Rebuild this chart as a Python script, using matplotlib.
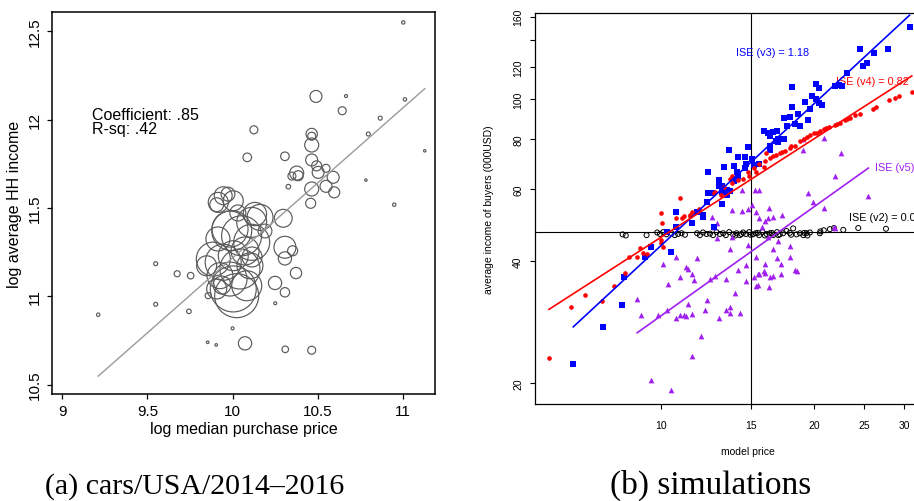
import numpy as np
import matplotlib
matplotlib.use("Agg")
import matplotlib.pyplot as plt
from matplotlib.ticker import NullLocator

plt.rcParams['font.family'] = ['Liberation Sans', 'DejaVu Sans']

# ---- panel (a): cars, log price vs log income, bubbles weighted by sales ----
log_price = [11.000, 10.664, 11.010, 10.488, 10.642, 10.865, 10.124, 10.795, 11.126, 10.463,
             10.463, 10.463, 10.085, 10.306, 10.463, 10.375, 10.384, 10.347, 10.326, 10.492,
             10.501, 10.547, 10.589, 10.463, 10.547, 10.595, 10.781, 10.457, 10.947, 9.944,
             9.972, 9.906, 9.915, 10.003, 10.296, 10.130, 10.160, 10.111, 9.984, 10.052,
             10.111, 9.994, 10.003, 9.886, 9.944, 9.847, 10.042, 10.101, 9.925, 9.984,
             10.082, 10.023, 10.003, 9.906, 9.856, 10.306, 10.351, 10.306, 10.371, 10.248,
             10.306, 10.249, 9.548, 9.674, 9.753, 9.548, 9.743, 9.211, 9.999, 9.853,
             9.903, 10.072, 10.308, 10.463, 9.913, 10.072, 9.937, 10.113, 10.030, 10.189]
log_income = [12.551, 12.134, 12.115, 12.132, 12.051, 12.009, 11.943, 11.919, 11.824, 11.919,
              11.907, 11.857, 11.787, 11.793, 11.772, 11.698, 11.683, 11.681, 11.621, 11.739,
              11.702, 11.725, 11.674, 11.608, 11.623, 11.589, 11.658, 11.527, 11.519, 11.570,
              11.579, 11.519, 11.532, 11.541, 11.442, 11.466, 11.447, 11.419, 11.381, 11.343,
              11.306, 11.372, 11.230, 11.211, 11.193, 11.173, 11.155, 11.173, 11.117, 11.098,
              11.060, 11.004, 11.042, 11.042, 11.004, 11.278, 11.258, 11.215, 11.132, 11.076,
              11.023, 10.961, 11.185, 11.128, 11.117, 10.955, 10.915, 10.896, 10.819, 10.740,
              10.725, 10.734, 10.700, 10.695, 11.325, 11.257, 11.064, 11.223, 11.472, 11.370]
sales = [0.72, 0.56, 0.72, 9, 4, 1, 4, 1, 0.36, 8.1,
         4, 12.3, 4.6, 4.6, 9, 12.3, 6.3, 4, 1.3, 6.3,
         9, 4, 9, 12.3, 9, 7.6, 0.36, 6.3, 0.72, 20,
         12, 12, 25, 25, 20, 34, 42, 56, 81, 100,
         81, 100, 56, 72, 81, 25, 100, 42, 42, 72,
         56, 121, 132, 25, 2.3, 30, 6.3, 11, 8, 11,
         5.5, 0.56, 1, 2.3, 2.7, 1, 1.3, 0.72, 0.56, 0.42,
         0.42, 11, 2.7, 4, 36, 49, 20, 25, 16, 12]
coef_a = 0.85
rsq_a = 0.42
center_a = (10.169, 11.3625)
stats_a = ["Coefficient: .85", "R-sq: .42"]

# ---- panel (b): simulated buyers' income vs model price ----
v3_x = [30.7, 24.6, 26.2, 27.9, 24.9, 25.3, 23.2, 21.9, 22.6, 22.3, 20.1, 20.4, 18.1, 19.8, 20.1,
        19.2, 20.4, 20.7, 19.6, 18.1, 18.6, 17.4, 17.9, 19.4, 17.7, 18.3, 18.7, 15.9, 16.2, 16.6,
        16.9, 16.4, 17.0, 17.4, 16.8, 17.0, 16.4, 16.4, 14.8, 13.6, 14.2, 14.6, 15.1, 15.6, 15.2,
        14.7, 14.6, 13.9, 13.3, 12.4, 14.1, 14.2, 13.9, 13.0, 13.0, 13.2, 13.5, 13.7, 13.2, 13.5,
        12.6, 12.4, 13.2, 12.3, 11.8, 12.1, 12.1, 10.7, 10.7, 11.5, 10.3, 12.7, 9.56, 10.5, 9.32,
        8.47, 8.39, 7.72, 6.75]
v3_y = [150.5, 133.2, 130.0, 133.2, 120.8, 123.2, 116.3, 107.8, 107.8, 108.6, 109.3, 106.6, 107.2, 101.8, 100.4,
        98.7, 98.2, 96.7, 94.9, 95.8, 92.2, 90.0, 90.5, 89.0, 85.8, 86.8, 86.0, 83.6, 82.6, 83.1,
        83.6, 81.1, 80.1, 80.0, 78.9, 78.5, 77.0, 75.2, 76.3, 74.9, 72.3, 72.3, 71.5, 69.4, 69.0,
        69.4, 67.8, 68.5, 68.1, 66.1, 66.3, 64.9, 62.8, 63.4, 61.2, 61.2, 59.7, 59.4, 59.2, 58.1,
        58.7, 58.7, 55.1, 55.9, 52.9, 52.0, 51.2, 52.9, 48.6, 49.5, 47.0, 48.6, 43.3, 42.1, 40.8,
        36.6, 31.1, 27.5, 22.3]

v4_x = [31.0, 29.3, 28.8, 28.0, 26.4, 26.0, 24.0, 23.5, 22.9, 22.4, 21.9, 21.4, 20.9, 20.5, 20.0,
        19.6, 19.1, 18.7, 18.3, 17.9, 17.5, 17.1, 16.8, 16.4, 16.1, 16.0, 15.9, 15.6, 15.2, 15.4,
        14.8, 14.9, 14.5, 14.2, 13.8, 13.8, 13.3, 12.8, 12.7, 13.7, 13.1, 10.9, 11.9, 11.5, 11.4,
        11.0, 10.7, 11.1, 11.4, 10.0, 10.05, 10.0, 10.1, 10.0, 9.11, 9.25, 8.98, 9.41, 8.68, 8.51,
        8.10, 7.69, 7.13, 6.69, 6.05, 18.0, 19.3, 20.2, 21.1, 22.1, 23.2, 24.5, 16.6, 17.3]
v4_y = [104.6, 101.8, 100.9, 99.5, 95.8, 94.9, 91.4, 90.0, 88.8, 87.7, 86.4, 85.6, 84.5, 83.6, 82.5,
        81.7, 80.0, 78.9, 77.0, 75.9, 74.5, 73.6, 72.9, 71.8, 73.6, 70.4, 68.1, 69.4, 67.6, 66.1,
        66.1, 64.9, 63.8, 63.2, 64.9, 62.1, 61.0, 59.2, 58.7, 63.8, 58.0, 57.2, 53.8, 52.7, 51.6,
        51.1, 50.9, 51.6, 52.0, 52.4, 49.6, 44.4, 43.3, 45.1, 43.1, 41.9, 41.0, 41.6, 41.0, 37.3,
        34.7, 31.8, 32.9, 30.8, 23.0, 76.6, 80.6, 82.9, 84.9, 87.0, 89.3, 92.2, 72.4, 74.1]

v5_x = [19.0, 20.9, 19.0, 22.5, 21.9, 19.4, 19.9, 20.9, 25.5, 14.4, 15.3, 15.6, 15.1, 14.8, 14.4,
        13.8, 15.4, 16.3, 16.6, 17.3, 15.6, 16.0, 16.2, 12.6, 12.9, 21.8, 15.8, 17.9, 17.9, 18.3,
        18.5, 16.6, 16.9, 17.2, 17.0, 16.2, 16.0, 15.9, 16.6, 17.2, 15.4, 15.6, 15.2, 15.5, 15.4,
        15.5, 16.3, 14.8, 14.7, 13.7, 13.8, 13.4, 12.8, 12.5, 14.0, 14.2, 11.8, 11.2, 11.3, 10.7,
        11.5, 11.6, 10.9, 10.35, 10.1, 12.3, 11.3, 12.2, 13.4, 13.7, 13.7, 14.3, 13.0, 11.5, 11.2,
        11.1, 10.9, 10.7, 10.3, 9.87, 9.0, 9.15, 12.0, 11.5, 9.56, 10.5, 12.7, 12.9, 14.7, 16.0,
        16.4, 21.9]
v5_y = [80.0, 80.3, 74.9, 74.0, 64.9, 58.9, 55.9, 54.0, 57.8, 59.9, 59.9, 59.7, 54.8, 53.8, 53.1,
        53.3, 52.7, 54.0, 51.2, 51.9, 50.9, 50.1, 51.1, 51.2, 49.6, 48.6, 48.6, 43.5, 41.0, 37.9,
        37.7, 42.9, 40.6, 39.4, 44.9, 45.8, 39.3, 37.8, 36.8, 37.1, 41.0, 37.1, 36.6, 37.1, 34.6,
        34.8, 34.4, 43.8, 39.1, 42.9, 45.8, 36.1, 36.8, 36.1, 33.3, 37.9, 40.6, 38.7, 38.2, 40.8,
        37.1, 35.9, 36.6, 35.1, 39.3, 32.1, 31.4, 30.2, 30.3, 30.8, 29.7, 29.7, 28.9, 29.6, 29.3,
        29.4, 29.5, 28.9, 30.2, 29.4, 32.3, 29.4, 26.1, 23.3, 20.3, 19.2, 48.6, 45.5, 35.7, 37.3,
        36.5, 48.3]

v2_x = [8.43, 8.55, 9.39, 9.85, 9.97, 10.12, 10.27, 10.51, 10.66, 10.82, 10.99, 11.16, 11.79, 11.94, 12.11,
        12.30, 12.49, 12.67, 12.87, 13.06, 13.26, 13.42, 13.62, 13.87, 14.08, 14.29, 14.51, 14.69, 14.91, 15.14,
        15.36, 15.59, 15.83, 16.12, 16.36, 16.60, 16.90, 17.11, 17.37, 17.63, 17.90, 18.17, 18.45, 18.73, 19.02,
        19.29, 19.38, 19.59, 20.49, 20.54, 20.86, 21.44, 21.84, 22.77, 24.36, 27.6, 14.0, 14.4, 15.0, 15.5,
        16.0, 16.5, 17.0, 18.0, 19.1]
v2_y = [46.5, 46.2, 46.3, 47.0, 46.6, 47.1, 46.5, 46.8, 46.3, 46.6, 46.8, 46.4, 46.8, 46.3, 47.0,
        46.6, 46.7, 46.3, 47.1, 46.6, 46.8, 46.3, 47.1, 46.5, 46.8, 46.3, 47.0, 46.6, 47.1, 46.5,
        46.8, 46.3, 47.1, 46.6, 46.8, 46.3, 47.1, 46.5, 46.8, 47.4, 46.9, 48.1, 46.5, 46.8, 46.3,
        46.8, 46.2, 47.0, 46.8, 47.3, 47.6, 47.9, 48.2, 47.7, 48.2, 48.0, 46.2, 46.6, 46.4, 46.9,
        46.2, 46.9, 46.3, 46.4, 46.9]

# power-law fits y = A * x**b for each simulated version
fit_v3 = (2.957, 1.168)
fit_v4 = (7.056, 0.811)
fit_v5 = (3.697, 0.898)
mean_income = 47.0
ref_price = 15

ise_labels = ["ISE (v3) = 1.18", "ISE (v4) = 0.82", "ISE (v5)", "ISE (v2) = 0.0"]
ise_pos = [(14.02, 130.7), (22.03, 111.2), (26.26, 68.0), (23.38, 51.2)]
ise_colors = ['#0000FF', '#FF0000', '#A020F0', 'black']

fig = plt.figure(figsize=(9.14, 5.02), dpi=100)

# ---------------- (a) ----------------
ax1 = fig.add_axes([0.0569, 0.2131, 0.4190, 0.7610])
ax1.scatter(log_price, log_income, s=8.3 * np.array(sales), facecolors='none',
            edgecolors='#5a5a5a', linewidths=0.85, zorder=2)
xs = np.array([min(log_price), max(log_price)])
ax1.plot(xs, center_a[1] + coef_a * (xs - center_a[0]), color='#9a9a9a', lw=1.0, zorder=3)
ax1.text(9.172, 12.004, stats_a[0], fontsize=11.5, va='baseline')
ax1.text(9.172, 11.924, stats_a[1], fontsize=11.5, va='baseline')

ax1.set_xlim(8.94, 11.186)
ax1.set_ylim(10.447, 12.61)
ax1.set_xticks([9, 9.5, 10, 10.5, 11], labels=['9', '9.5', '10', '10.5', '11'])
ax1.set_yticks([10.5, 11, 11.5, 12, 12.5], labels=['10.5', '11', '11.5', '12', '12.5'])
ax1.tick_params(axis='both', direction='out', length=3.6, width=0.9, labelsize=11)
ax1.tick_params(axis='x', pad=3.3)
ax1.tick_params(axis='y', pad=4, labelrotation=90)
for lab in ax1.get_yticklabels():
    lab.set_va('center')
for sp in ax1.spines.values():
    sp.set_linewidth(1.1)
ax1.set_xlabel('log median purchase price', fontsize=11.5)
ax1.set_ylabel('log average HH income', fontsize=11.5)
ax1.xaxis.set_label_coords(0.5, -0.07)
ax1.yaxis.set_label_coords(-0.078, 0.5)

# ---------------- (b) ----------------
ax2 = fig.add_axes([0.5853, 0.1926, 0.4267, 0.7789])
ax2.set_xscale('log')
ax2.set_yscale('log')
ax2.axhline(mean_income, color='black', lw=0.8, zorder=1)
ax2.axvline(ref_price, color='black', lw=0.8, zorder=1)

for lab, (tx, ty), col in zip(ise_labels, ise_pos, ise_colors):
    ax2.text(tx, ty, lab, color=col, fontsize=7.8, va='center', ha='left', zorder=1.5)

ax2.scatter(v2_x, v2_y, s=13, facecolors='none', edgecolors='black', linewidths=0.7, zorder=2)
ax2.scatter(v5_x, v5_y, s=17, marker='^', color='#A020F0', linewidths=0, zorder=2)
ax2.scatter(v3_x, v3_y, s=13, marker='s', color='#0000FF', linewidths=0, zorder=2)
ax2.scatter(v4_x, v4_y, s=11, marker='o', color='#FF0000', linewidths=0, zorder=2)

for (A, b), xv, col in [(fit_v3, v3_x, '#0000FF'), (fit_v4, v4_x, '#FF0000'), (fit_v5, v5_x, '#A020F0')]:
    xl = np.array([min(xv), max(xv)])
    ax2.plot(xl, A * xl ** b, color=col, lw=1.2, zorder=3)

ax2.set_xlim(5.68, 32.9)
ax2.set_ylim(17.72, 163.1)
ax2.set_xticks([10, 15, 20, 25, 30], labels=['10', '15', '20', '25', '30'])
ax2.set_yticks([20, 40, 60, 80, 100, 120, 140, 160],
               labels=['20', '40', '60', '80', '100', '120', '', '160'])
ax2.xaxis.set_minor_locator(NullLocator())
ax2.yaxis.set_minor_locator(NullLocator())
ax2.tick_params(axis='both', direction='out', length=3.6, width=0.8, labelsize=7.5)
ax2.tick_params(axis='x', pad=7.5)
ax2.tick_params(axis='y', pad=5, labelrotation=90)
for lab in ax2.get_yticklabels():
    lab.set_va('center')
for sp in ax2.spines.values():
    sp.set_linewidth(0.9)
ax2.set_xlabel('model price', fontsize=7.5)
ax2.set_ylabel('average income of buyers (000USD)', fontsize=7.5)
ax2.xaxis.set_label_coords(0.546, -0.107)
ax2.yaxis.set_label_coords(-0.105, 0.5)

# captions
fig.text(195 / 914, 0.016, '(a) cars/USA/2014\u20132016', fontsize=21.5,
         family='Liberation Serif', ha='center', va='baseline')
fig.text(711 / 914, 0.016, '(b) simulations', fontsize=24,
         family='Liberation Serif', ha='center', va='baseline')

fig.savefig('out.png', dpi=100)
